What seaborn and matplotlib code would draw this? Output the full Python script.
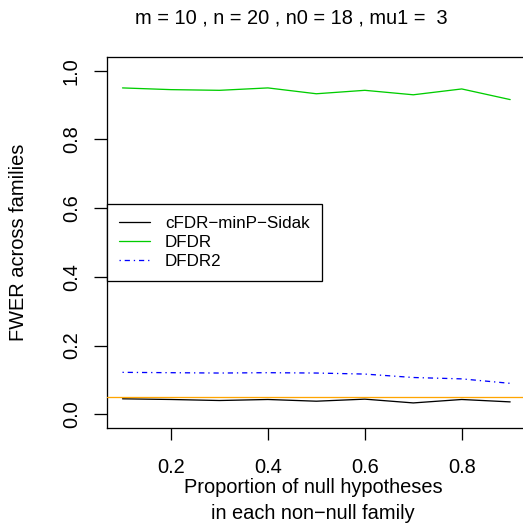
import numpy as np
import pandas as pd
import matplotlib
matplotlib.use("Agg")
import matplotlib.pyplot as plt
import seaborn as sns

# ---- data ----
prop_null = [0.1, 0.2, 0.3, 0.4, 0.5, 0.6, 0.7, 0.8, 0.9]
cfdr_minp_sidak = [0.045, 0.043, 0.040, 0.043, 0.038, 0.044, 0.033, 0.043, 0.036]
dfdr = [0.950, 0.945, 0.943, 0.950, 0.933, 0.943, 0.930, 0.947, 0.916]
dfdr2 = [0.122, 0.121, 0.120, 0.121, 0.120, 0.117, 0.107, 0.103, 0.090]
alpha_level = 0.05
series_names = ["cFDR\u2212minP\u2212Sidak", "DFDR", "DFDR2"]
title_text = "m = 10 , n = 20 , n0 = 18 , mu1 =  3"
x_label = "Proportion of null hypotheses\nin each non\u2212null family"
y_label = "FWER across families"
x_ticks = [0.2, 0.4, 0.6, 0.8]
y_ticks = [0.0, 0.2, 0.4, 0.6, 0.8, 1.0]

sns.set_style("white")
plt.rcParams["font.family"] = ["Liberation Sans", "DejaVu Sans"]
for k in ["text.color", "axes.labelcolor", "xtick.color", "ytick.color"]:
    plt.rcParams[k] = "black"

W, H, DPI = 523, 530, 100
px = 72 / DPI  # one pixel in points
E = 20.0       # main font em size in px
FS = E * px
FS_LEG = 17.0 * px

fig = plt.figure(figsize=(W / DPI, H / DPI), dpi=DPI)
AX_L, AX_R, AX_T, AX_B = 107, 525.7, 57, 428
AW, AH = AX_R - AX_L, AX_B - AX_T
ax = fig.add_axes([AX_L / W, 1 - AX_B / H, AW / W, AH / H])

lw = 1.3 * px

df = pd.DataFrame({"x": prop_null, "a": cfdr_minp_sidak, "b": dfdr, "c": dfdr2})
sns.lineplot(data=df, x="x", y="a", ax=ax, color="black", lw=lw, label=series_names[0])
sns.lineplot(data=df, x="x", y="b", ax=ax, color="#00CD00", lw=lw, label=series_names[1])
sns.lineplot(data=df, x="x", y="c", ax=ax, color="blue", lw=lw,
             linestyle=(0, (1, 3, 4, 3)), label=series_names[2])
ax.axhline(alpha_level, color="#FFA500", lw=lw, zorder=3)

ax.set_xlim(0.068, 0.932)
ax.set_ylim(-0.04, 1.04)
ax.set_xticks(x_ticks)
ax.set_yticks(y_ticks)
ax.set_xticklabels([f"{v:.1f}" for v in x_ticks], fontsize=FS)
ax.set_yticklabels([f"{v:.1f}" for v in y_ticks], fontsize=FS, rotation=90,
                   va="center", ha="right")
ax.tick_params(axis="x", direction="out", length=12 * px, width=lw, pad=18 * px)
ax.tick_params(axis="y", direction="out", length=13 * px, width=lw, pad=13 * px)
ax.tick_params(bottom=True, left=True)
for s in ax.spines.values():
    s.set_visible(True)
    s.set_color("black")
    s.set_linewidth(lw)

ax.set_xlabel(x_label, fontsize=FS, linespacing=1.45, va="top")
ax.xaxis.set_label_coords((313 - AX_L) / AW, (AX_B - 478) / AH)
ax.set_ylabel(y_label, fontsize=FS)
ax.yaxis.set_label_coords((28 - AX_L) / AW, 0.5)

fig.text(291 / W, 1 - 24 / H, title_text, ha="center", va="baseline", fontsize=FS)

leg = ax.legend(loc="center left", bbox_to_anchor=(0, 0.5), borderaxespad=0,
                fontsize=FS_LEG, frameon=True, fancybox=False, edgecolor="black",
                framealpha=1, handlelength=1.8, handletextpad=0.88,
                borderpad=0.72, labelspacing=0.25)
leg.get_frame().set_linewidth(lw)

fig.savefig("out.png", dpi=DPI)
